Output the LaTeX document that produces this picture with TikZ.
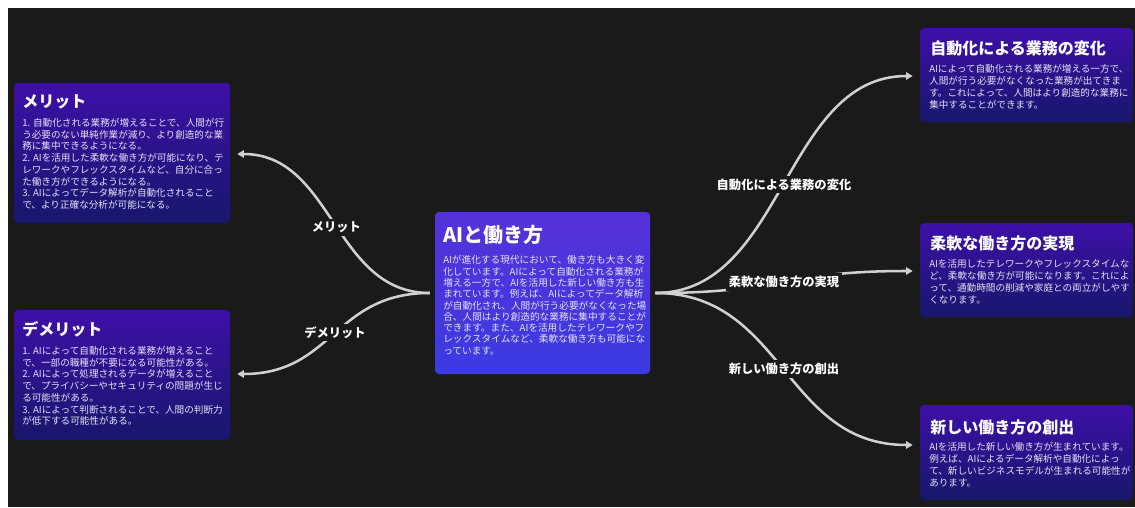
\documentclass[tikz,border=0pt]{standalone}
\usepackage{fontspec}
\setmainfont{Noto Sans CJK JP}
\usetikzlibrary{arrows.meta,fit,calc}
\definecolor{bg}{HTML}{1A1A1A}
\definecolor{boxtop}{HTML}{3E0FA8}
\definecolor{boxbot}{HTML}{17176C}
\definecolor{ctop}{HTML}{5631D8}
\definecolor{cbot}{HTML}{3B3BE2}
\definecolor{bodytxt}{HTML}{E6E2F6}
\definecolor{linec}{HTML}{D0D0D0}
\tikzset{
  box/.style={inner sep=0pt, rounded corners=3pt, top color=boxtop, bottom color=boxbot, draw=none},
  cbox/.style={inner sep=0pt, rounded corners=3pt, top color=ctop, bottom color=cbot, draw=none},
  ttl/.style={anchor=west, inner sep=0pt, text=white, font=\fontsize{12}{14}\selectfont\bfseries},
  ttlbig/.style={anchor=west, inner sep=0pt, text=white, font=\fontsize{15}{18}\selectfont\bfseries},
  body/.style={anchor=north west, inner sep=0pt, align=left, text=bodytxt, font=\fontsize{7.2}{8.8}\selectfont},
  bodyc/.style={body, font=\fontsize{7.25}{8.45}\selectfont},
  bodyr/.style={body, font=\fontsize{7.2}{9}\selectfont},
  conn/.style={draw=linec, line width=1.9pt, -{Triangle[length=5pt,width=5.5pt]}},
  lbl/.style={fill=bg, inner sep=2pt, text=white, font=\fontsize{9.2}{11}\selectfont\bfseries}
}
\begin{document}
\begin{tikzpicture}[x=0.75pt,y=-0.75pt]
\useasboundingbox (0,0) rectangle (1135,507);
\fill[white] (0,0) rectangle (1135,507);
\fill[bg] (8,8) rectangle (1135,507);

% boxes
\node[box, fit={(14,83) (230,223)}] (merit) {};
\node[box, fit={(14,310) (230,440)}] (demerit) {};
\node[cbox, fit={(435,212) (650,374)}] (center) {};
\node[box, fit={(920,28) (1133,122)}] (auto) {};
\node[box, fit={(920,223) (1133,317)}] (flex) {};
\node[box, fit={(920,405) (1133,500)}] (newwork) {};

% merit
\node[ttl] (meritT) at (22,102) {メリット};
\node[body] (meritB) at (22,118) {1. 自動化される業務が増えることで、人間が行\\う必要のない単純作業が減り、より創造的な業\\務に集中できるようになる。\\2. AIを活用した柔軟な働き方が可能になり、テ\\レワークやフレックスタイムなど、自分に合っ\\た働き方ができるようになる。\\3. AIによってデータ解析が自動化されること\\で、より正確な分析が可能になる。};

% demerit
\node[ttl] (demeritT) at (22,329) {デメリット};
\node[body] (demeritB) at (22,346) {1. AIによって自動化される業務が増えること\\で、一部の職種が不要になる可能性がある。\\2. AIによって処理されるデータが増えること\\で、プライバシーやセキュリティの問題が生じ\\る可能性がある。\\3. AIによって判断されることで、人間の判断力\\が低下する可能性がある。};

% center
\node[ttlbig] (centerT) at (443,235) {AIと働き方};
\node[bodyc] (centerB) at (443,255.5) {AIが進化する現代において、働き方も大きく変\\化しています。AIによって自動化される業務が\\増える一方で、AIを活用した新しい働き方も生\\まれています。例えば、AIによってデータ解析\\が自動化され、人間が行う必要がなくなった場\\合、人間はより創造的な業務に集中することが\\できます。また、AIを活用したテレワークやフ\\レックスタイムなど、柔軟な働き方も可能にな\\っています。};

% right top
\node[ttl] (autoT) at (930,48.5) {自動化による業務の変化};
\node[bodyr] (autoB) at (929,64) {AIによって自動化される業務が増える一方で、\\人間が行う必要がなくなった業務が出てきま\\す。これによって、人間はより創造的な業務に\\集中することができます。};

% right middle
\node[ttl] (flexT) at (930,243.5) {柔軟な働き方の実現};
\node[bodyr] (flexB) at (929,259) {AIを活用したテレワークやフレックスタイムな\\ど、柔軟な働き方が可能になります。これによ\\って、通勤時間の削減や家庭との両立がしやす\\くなります。};

% right bottom
\node[ttl] (newT) at (930,427) {新しい働き方の創出};
\node[bodyr] (newB) at (929,442.5) {AIを活用した新しい働き方が生まれています。\\例えば、AIによるデータ解析や自動化によっ\\て、新しいビジネスモデルが生まれる可能性が\\あります。};

% connectors
\draw[conn] ($(center.west)+(-5,0)$) .. controls +(-96,0) and +(96,0) .. ($(merit.east)+(7,1)$) node[lbl, pos=0.48] (l1) {メリット};
\draw[conn] ($(center.west)+(-5,0)$) .. controls +(-96,0) and +(96,0) .. ($(demerit.east)+(7,-1)$) node[lbl, pos=0.49] (l2) {デメリット};
\draw[conn] ($(center.east)+(5,0)$) .. controls +(129,0) and +(-129,0) .. ($(auto.west)+(-7,1)$) node[lbl, pos=0.5] (l3) {自動化による業務の変化};
\draw[conn] ($(center.east)+(5,0)$) .. controls +(129,0) and +(-129,0) .. ($(flex.west)+(-7,1)$) node[lbl, pos=0.5] (l4) {柔軟な働き方の実現};
\draw[conn] ($(center.east)+(5,0)$) .. controls +(129,0) and +(-129,0) .. ($(newwork.west)+(-7,-7.5)$) node[lbl, pos=0.5] (l5) {新しい働き方の創出};
\end{tikzpicture}
\end{document}
